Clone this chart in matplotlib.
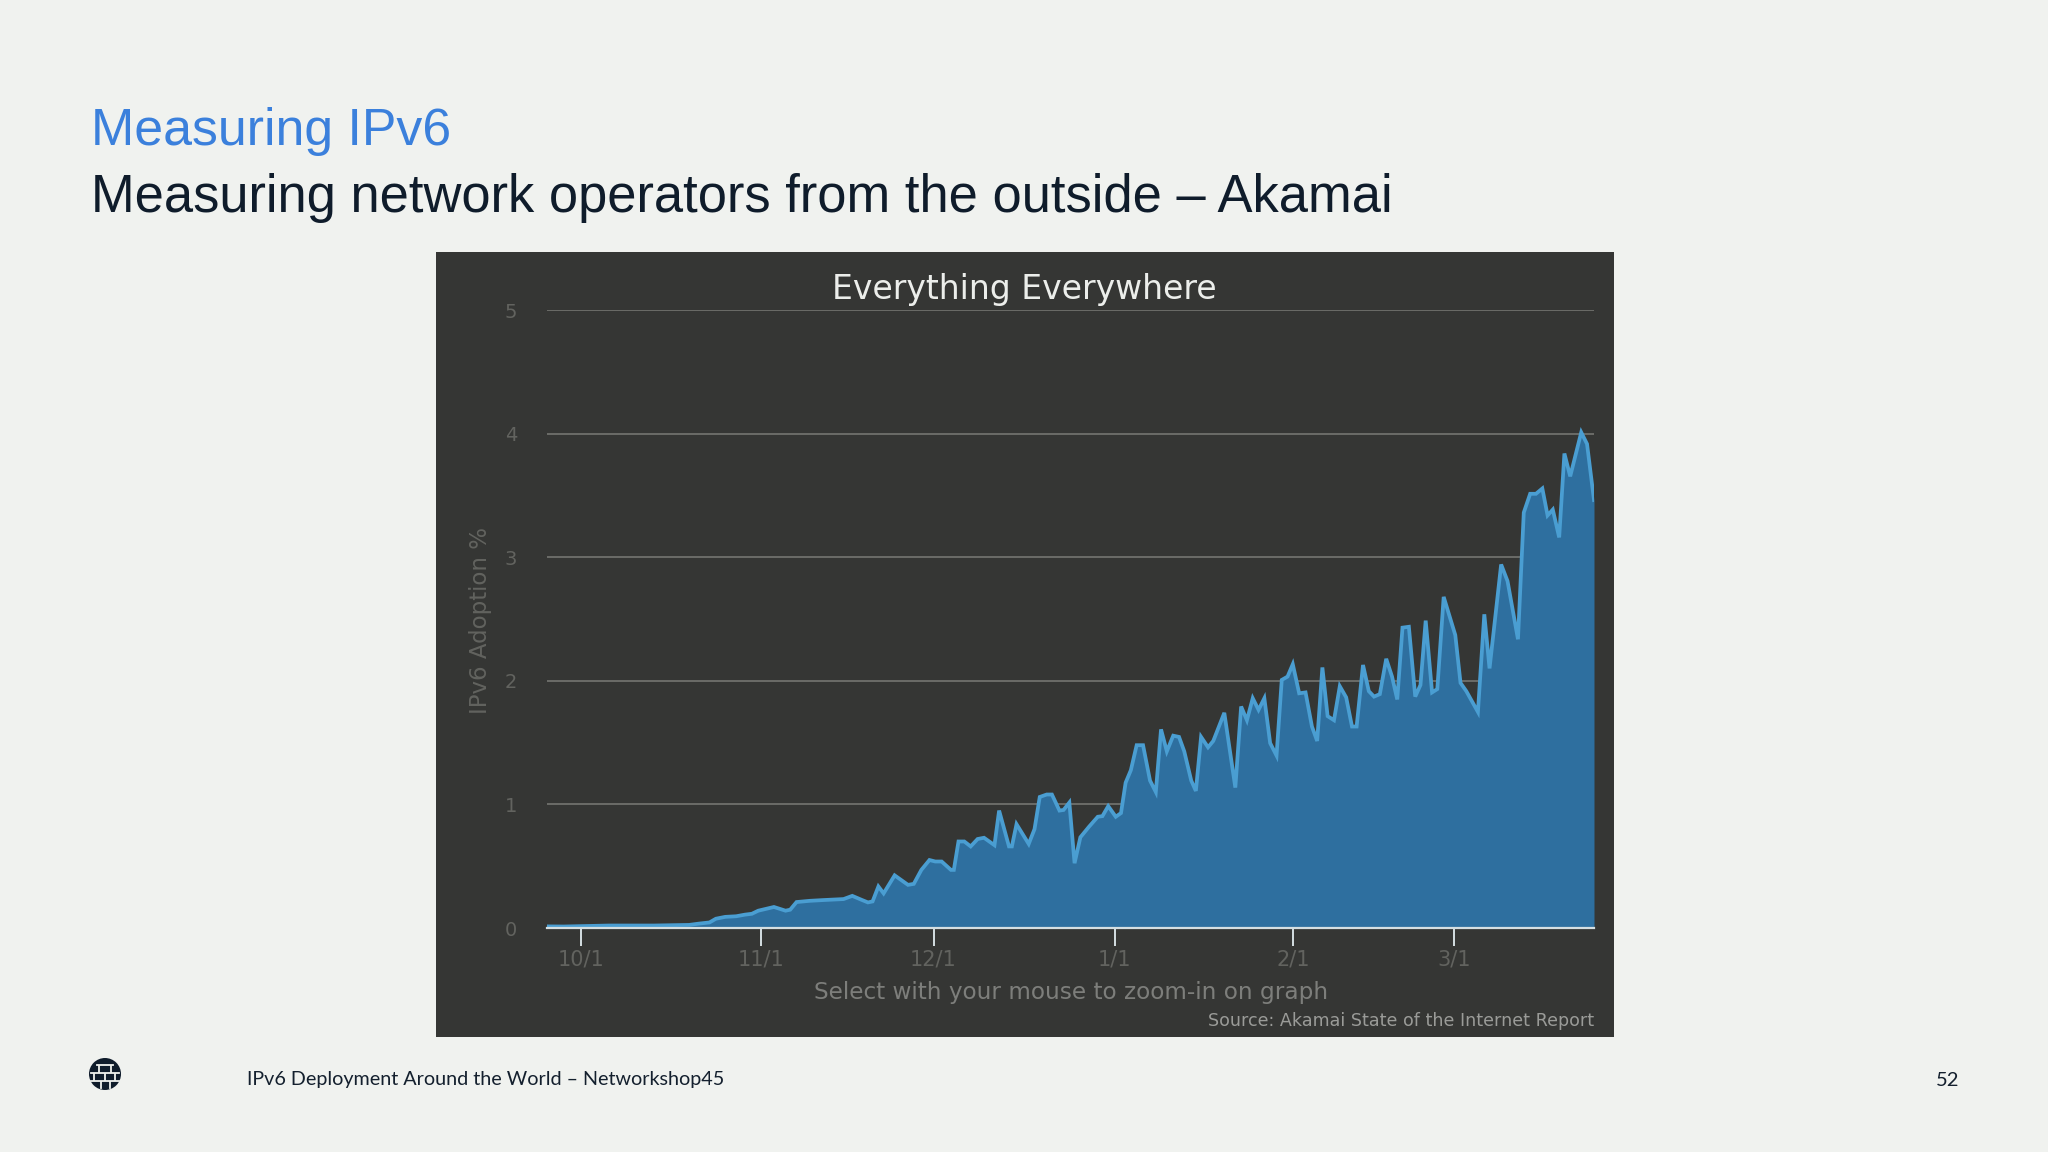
import matplotlib
matplotlib.use("Agg")
import matplotlib.pyplot as plt
from matplotlib.patches import Circle

# days after 10/1 and adoption %
days = [-5.9, -3, 4.8, 12.5, 18.6, 20.2, 22.1, 23.2, 24.8, 26.7, 28.2, 29.4, 30.5, 33.2, 35.2, 36, 37.1,
        39.4, 41.7, 45.2, 46.7, 48.3, 49.4, 50.2, 51.2, 52.1, 54, 56.3, 57.3, 58.6, 60, 61, 62.1, 63.7,
        64.2, 65, 66, 67.1, 68.3, 69.4, 71.2, 72, 73.7, 74.2, 75, 77.1, 78.1, 79, 80.2, 81.1, 82.4, 83.1,
        84.1, 85, 86, 87.5, 89, 89.8, 90.8, 92.1, 93, 93.8, 94.7, 95.7, 96.8, 98, 99, 99.9, 100.9, 102,
        103, 103.9, 105.1, 105.9, 106.8, 108, 108.9, 110.8, 112.7, 113.7, 114.7, 115.7, 116.7, 117.7,
        118.7, 119.8, 120.7, 121.7, 122.6, 123.7, 124.8, 125.9, 126.8, 127.7, 128.6, 129.7, 130.7, 131.8,
        132.8, 133.6, 134.7, 135.7, 136.6, 137.6, 138.7, 139.7, 140.6, 141.5, 142.6, 143.7, 144.6, 145.5,
        146.6, 147.5, 148.6, 150.6, 151.5, 152.5, 154.5, 155.6, 156.5, 158.5, 159.6, 161.4, 162.4, 163.5,
        164.5, 165.6, 166.5, 167.4, 168.5, 169.4, 170.4, 172.3, 173.3, 174.5]
adoption = [0.013, 0.012, 0.02, 0.02, 0.025, 0.035, 0.045, 0.075, 0.09, 0.095, 0.108, 0.115, 0.14, 0.17, 0.14,
            0.148, 0.21, 0.22, 0.226, 0.234, 0.26, 0.228, 0.207, 0.215, 0.336, 0.28, 0.426, 0.349, 0.357, 0.47,
            0.55, 0.538, 0.538, 0.47, 0.47, 0.70, 0.70, 0.66, 0.72, 0.73, 0.67, 0.95, 0.66, 0.66, 0.84, 0.68,
            0.80, 1.06, 1.08, 1.08, 0.95, 0.955, 1.015, 0.524, 0.734, 0.82, 0.90, 0.905, 0.986, 0.90, 0.93,
            1.176, 1.277, 1.479, 1.479, 1.193, 1.10, 1.607, 1.429, 1.556, 1.546, 1.429, 1.193, 1.109, 1.546,
            1.462, 1.513, 1.741, 1.136, 1.792, 1.681, 1.859, 1.765, 1.859, 1.496, 1.395, 2.007, 2.034, 2.134,
            1.899, 1.906, 1.63, 1.513, 2.108, 1.714, 1.681, 1.956, 1.866, 1.63, 1.63, 2.128, 1.916, 1.872,
            1.892, 2.178, 2.034, 1.849, 2.43, 2.437, 1.872, 1.966, 2.487, 1.906, 1.933, 2.679, 2.37, 1.983,
            1.916, 1.748, 2.538, 2.10, 2.941, 2.807, 2.336, 3.361, 3.513, 3.513, 3.556, 3.338, 3.385, 3.16,
            3.839, 3.654, 4.01, 3.916, 3.462]
tick_days = [0, 31, 60.7, 91.9, 122.7, 150.4]
tick_labels = ["10/1", "11/1", "12/1", "1/1", "2/1", "3/1"]
y_ticks = [0, 1, 2, 3, 4, 5]

W, H = 2048, 1152
BG = "#f0f2ef"
PANEL = "#353634"
FAINT = "#62635f"


def px_axes(fig, left, top, right, bottom, **kw):
    """Axes placed with pixel edges, y counted from the top of the image."""
    return fig.add_axes([left / W, 1 - bottom / H, (right - left) / W, (bottom - top) / H], **kw)


fig = plt.figure(figsize=(W / 100, H / 100), dpi=100, facecolor=BG)

# slide layer, in image pixels
slide = px_axes(fig, 0, 0, W, H)
slide.set_xlim(0, W)
slide.set_ylim(H, 0)
slide.axis("off")
slide.text(91, 132, "Measuring IPv6", family="Liberation Sans", fontsize=37.4, color="#3b80dc", va="center")
slide.text(91, 198, "Measuring network operators from the outside – Akamai", family="Liberation Sans",
           fontsize=37.8, color="#0f1c2b", va="center")
slide.text(247, 1080, "IPv6 Deployment Around the World – Networkshop45", family="Lato", fontsize=14.2,
           color="#14202e", va="center")
slide.text(1948, 1081, "52", family="Lato", fontsize=14.5, color="#14202e", va="center", ha="center")

# globe logo
slide.add_patch(Circle((105, 1074), 16, color="#0f1c2b", lw=0))
for y0, x0, x1 in [(1065, 97, 113), (1073, 91, 119), (1081, 91, 119)]:
    slide.plot([x0, x1], [y0, y0], color=BG, lw=1.3)
for x0, y0, y1 in [(99, 1066, 1072), (111, 1066, 1072), (94, 1074, 1080), (105, 1074, 1080), (115, 1074, 1080),
                   (101, 1082, 1088), (110, 1082, 1088)]:
    slide.plot([x0, x0], [y0, y1], color=BG, lw=1.3)

# dark screenshot panel
panel = px_axes(fig, 436, 252, 1614, 1037, facecolor=PANEL)
panel.set_xticks([])
panel.set_yticks([])
for s in panel.spines.values():
    s.set_visible(False)

# the graph itself, 0 at y=928 and 5 at y=310
ax = px_axes(fig, 547, 310, 1594, 928, facecolor="none")
ax.set_xlim(-5.9, 174.5)
ax.set_ylim(0, 5)
ax.grid(axis="y", color="#6b6c68", lw=1.4)
ax.set_axisbelow(True)
ax.fill_between(days, adoption, 0, color="#2e6f9f", lw=0, zorder=2)
ax.plot(days, adoption, color="#4a9ed2", lw=2.7, solid_joinstyle="miter", zorder=3)

for s in ["top", "left", "right"]:
    ax.spines[s].set_visible(False)
ax.spines["bottom"].set_color("#d5dfe2")
ax.spines["bottom"].set_linewidth(1.6)
ax.spines["bottom"].set_zorder(4)

ax.set_xticks(tick_days)
ax.set_xticklabels(tick_labels, family="DejaVu Sans", fontsize=15, color=FAINT)
ax.tick_params(axis="x", length=13, width=1.4, color="#d5dfe2", pad=2.5)
ax.set_yticks(y_ticks)
ax.set_yticklabels(y_ticks, family="DejaVu Sans", fontsize=14, color=FAINT)
ax.tick_params(axis="y", length=0, pad=21.5)

slide2 = px_axes(fig, 0, 0, W, H, facecolor="none")
slide2.set_xlim(0, W)
slide2.set_ylim(H, 0)
slide2.axis("off")
slide2.text(480, 620, "IPv6 Adoption %", family="DejaVu Sans", fontsize=16.5, color=FAINT, rotation=90,
            ha="center", va="center")
slide2.text(1024, 289, "Everything Everywhere", family="DejaVu Sans", fontsize=23.8, color="#eceeeb",
            ha="center", va="center")
slide2.text(1071, 993, "Select with your mouse to zoom-in on graph", family="DejaVu Sans", fontsize=16.7,
            color="#7d7e7b", ha="center", va="center")
slide2.text(1594, 1021, "Source: Akamai State of the Internet Report", family="DejaVu Sans", fontsize=12.6,
            color="#9a9b98", ha="right", va="center")

fig.savefig("out.png", dpi=100, facecolor=BG)
